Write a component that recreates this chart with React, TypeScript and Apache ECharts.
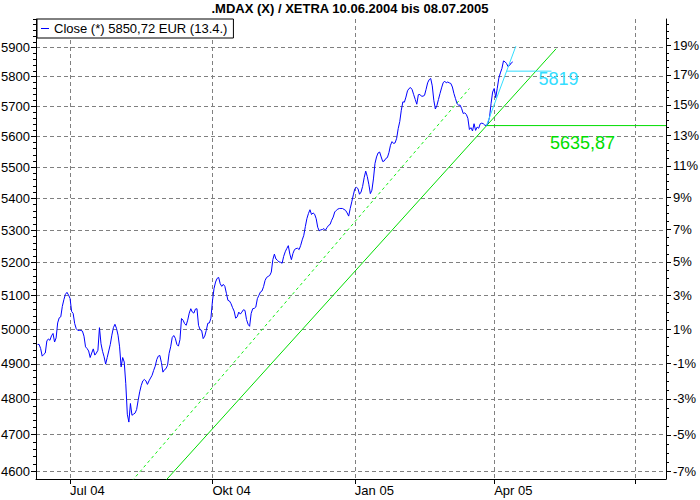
import React, { useEffect, useRef } from 'react';
import * as echarts from 'echarts';

const TITLE = '.MDAX (X) / XETRA 10.06.2004 bis 08.07.2005';
const SERIES_NAME = 'Close (*) 5850,72 EUR (13.4.)';

// one reading per calendar day, starting 10.06.2004
const closeStartDate = [2004, 6, 10];
const closeValues = [
  // Jun 2004 (10..30)
  4956, 4956, 4944, 4922, 4927, 4931, 4966, 4972, 4968, 4981, 4988, 4963, 4975, 5019, 5034, 5037, 5068, 5088, 5104, 5110, 5102,
  // Jul
  5092, 5053, 5047, 5017, 5002, 4997, 4997, 4997, 4995, 4980, 4949, 4944, 4937, 4918, 4931, 4943, 4925, 4931, 4939, 5005, 4958, 4936, 4920, 4899, 4918, 4937, 4956, 4983, 5005, 5015, 5003,
  // Aug
  4983, 4949, 4891, 4918, 4905, 4843, 4757, 4735, 4787, 4754, 4757, 4760, 4770, 4796, 4820, 4838, 4851, 4855, 4851, 4841, 4851, 4859, 4867, 4881, 4893, 4912, 4922, 4924, 4904, 4876, 4883,
  // Sep
  4886, 4896, 4930, 4949, 4976, 4982, 4974, 4956, 4951, 4970, 5032, 5027, 5017, 5012, 5027, 5048, 5061, 5051, 5048, 5060, 5061, 5012, 4999, 4997, 4973, 4980, 4997, 5018, 5019, 5033,
  // Okt
  5084, 5121, 5141, 5152, 5155, 5136, 5128, 5134, 5128, 5107, 5086, 5084, 5076, 5064, 5054, 5033, 5037, 5051, 5045, 5051, 5058, 5056, 5029, 5015, 5009, 5047, 5061, 5062, 5066, 5091, 5101,
  // Nov
  5111, 5114, 5127, 5146, 5155, 5158, 5161, 5171, 5209, 5226, 5211, 5207, 5202, 5201, 5198, 5219, 5233, 5243, 5252, 5226, 5209, 5228, 5240, 5243, 5244, 5240, 5253, 5270, 5284, 5311,
  // Dez
  5336, 5352, 5364, 5349, 5354, 5350, 5336, 5309, 5298, 5301, 5302, 5305, 5300, 5308, 5315, 5318, 5331, 5341, 5357, 5362, 5366, 5368, 5368, 5368, 5365, 5362, 5354, 5344, 5368, 5389, 5411,
  // Jan 2005
  5431, 5435, 5431, 5413, 5420, 5438, 5466, 5487, 5470, 5445, 5415, 5426, 5462, 5512, 5533, 5546, 5549, 5533, 5518, 5520, 5528, 5531, 5547, 5571, 5583, 5577, 5579, 5594, 5626, 5649, 5687,
  // Feb
  5715, 5714, 5731, 5752, 5760, 5763, 5756, 5739, 5723, 5707, 5739, 5740, 5734, 5734, 5737, 5757, 5779, 5790, 5794, 5769, 5720, 5691, 5703, 5723, 5743, 5762, 5779, 5785,
  // Mar
  5779, 5782, 5779, 5777, 5765, 5743, 5726, 5709, 5704, 5704, 5692, 5676, 5678, 5673, 5660, 5623, 5629, 5618, 5642, 5620, 5631, 5627, 5642, 5644, 5642, 5637, 5635.87, 5644, 5664, 5710, 5748,
  // Apr (1..13)
  5760, 5729, 5761, 5795, 5813, 5828, 5854, 5851, 5845, 5834, 5839, 5847, 5850.72,
];

const trendSolid = [['2004-08-30', 4567], ['2005-05-11', 5896]];
const trendDashed = [['2004-08-10', 4574], ['2005-03-16', 5760]];
const trendCyan = [['2005-03-27', 5636], ['2005-04-15', 5905]];
const cyanLevel = 5819;
const cyanLevelRange = ['2005-04-09', '2005-05-08'];
const greenLevel = 5635.87;
const greenLevelRange = ['2005-03-27', '2005-07-21'];
const greenLabelDate = '2005-05-07';

const xRange = ['2004-06-09', '2005-07-21'];
const priceTicks = [4600, 4700, 4800, 4900, 5000, 5100, 5200, 5300, 5400, 5500, 5600, 5700, 5800, 5900];
const pctTicks = [-7, -5, -3, -1, 1, 3, 5, 7, 9, 11, 13, 15, 17, 19];
const quarterTicks = ['2004-07-01', '2004-10-01', '2005-01-01', '2005-04-01', '2005-07-01'];
const quarterLabels = ['2004-07-01', '2004-10-01', '2005-01-01', '2005-04-01'];
const monthNames = ['Jan', 'Feb', 'Mär', 'Apr', 'Mai', 'Jun', 'Jul', 'Aug', 'Sep', 'Okt', 'Nov', 'Dez'];

const FONT = 'Liberation Sans, Arial, sans-serif';
const BLUE = '#0000ff';
const GREEN = '#00dd00';
const GREEN_DASH = '#11ee11';
const CYAN = '#33ddff';
const GRID_LINE = { show: true, lineStyle: { color: '#808080', type: [4, 3] as any, width: 1 } };

const Y_MIN = 4579.3;
const Y_MAX = 6000;
const PCT_MIN = 0.92608;
const PCT_MAX = 1.20852;

const ts = (s: string) => {
  const [y, m, d] = s.split('-').map(Number);
  return new Date(y, m - 1, d).getTime();
};

export default function App() {
  const ref = useRef<HTMLDivElement>(null);
  useEffect(() => {
    if (!ref.current) return;
    const chart = echarts.init(ref.current, undefined, { renderer: 'svg' });
    const [sy, sm, sd] = closeStartDate;
    const closeData = closeValues.map((v, i) => [new Date(sy, sm - 1, sd + i).getTime(), v]);
    const pairs = (arr: any[]) => arr.map(([d, v]) => [ts(d), v]);

    const minorPrice: number[] = [];
    for (let v = 4600; v <= 6000; v += 20) minorPrice.push(v);
    const minorPct: number[] = [];
    for (let p = -7; p <= 20.5; p += 0.5) minorPct.push(1 + p / 100);

    const fmtDe = (v: number) => (Number.isInteger(v) ? String(v) : v.toFixed(2).replace('.', ','));

    const option: any = {
      animation: false,
      backgroundColor: '#fff',
      title: {
        text: TITLE,
        left: 'center',
        top: 2,
        padding: 0,
        textStyle: { fontFamily: FONT, fontSize: 13, fontWeight: 'bold', color: '#000' },
      },
      legend: {
        data: [SERIES_NAME],
        left: 37,
        top: 19,
        padding: [3, 6, 3, 4],
        backgroundColor: '#fff',
        borderColor: '#000',
        borderWidth: 1,
        borderRadius: 0,
        icon: 'rect',
        itemWidth: 8,
        itemHeight: 1,
        textStyle: { fontFamily: FONT, fontSize: 13, color: '#000' },
        selectedMode: false,
      },
      grid: { left: 36, right: 34, top: 19, bottom: 21, containLabel: false, outerBoundsMode: 'none' },
      xAxis: {
        type: 'value',
        min: ts(xRange[0]),
        max: ts(xRange[1]),
        axisLine: { show: true, onZero: false, lineStyle: { color: '#000', width: 1 } },
        axisTick: { show: true, length: 5, lineStyle: { color: '#000' }, customValues: quarterTicks.map(ts) },
        axisLabel: {
          customValues: quarterLabels.map(ts),
          align: 'left',
          margin: 5,
          color: '#000',
          fontFamily: FONT,
          fontSize: 13,
          formatter: (value: number) => {
            const d = new Date(value);
            return monthNames[d.getMonth()] + ' ' + String(d.getFullYear()).slice(2);
          },
        },
        splitLine: GRID_LINE,
      },
      yAxis: [
        {
          type: 'log',
          position: 'left',
          min: Y_MIN,
          max: Y_MAX,
          axisLine: { show: true, lineStyle: { color: '#000', width: 1 } },
          axisTick: { show: true, length: 5, lineStyle: { color: '#000' }, customValues: priceTicks },
          axisLabel: {
            customValues: priceTicks,
            margin: 6,
            color: '#000',
            fontFamily: FONT,
            fontSize: 13,
            formatter: (v: number) => String(Math.round(v)),
          },
          splitLine: GRID_LINE,
        },
        {
          type: 'log',
          position: 'left',
          min: Y_MIN,
          max: Y_MAX,
          axisLine: { show: false },
          axisTick: { show: true, length: 3, lineStyle: { color: '#000' }, customValues: minorPrice },
          axisLabel: { show: false },
          splitLine: { show: false },
        },
        {
          type: 'log',
          position: 'right',
          min: PCT_MIN,
          max: PCT_MAX,
          axisLine: { show: true, lineStyle: { color: '#000', width: 1 } },
          axisTick: { show: true, length: 5, lineStyle: { color: '#000' }, customValues: pctTicks.map((p) => 1 + p / 100) },
          axisLabel: {
            customValues: pctTicks.map((p) => 1 + p / 100),
            margin: 7,
            color: '#000',
            fontFamily: FONT,
            fontSize: 13,
            formatter: (v: number) => Math.round((v - 1) * 100) + '%',
          },
          splitLine: { show: false },
        },
        {
          type: 'log',
          position: 'right',
          min: PCT_MIN,
          max: PCT_MAX,
          axisLine: { show: false },
          axisTick: { show: true, length: 3, lineStyle: { color: '#000' }, customValues: minorPct },
          axisLabel: { show: false },
          splitLine: { show: false },
        },
      ],
      series: [
        {
          name: 'trend-dashed',
          type: 'line',
          data: pairs(trendDashed),
          symbol: 'none',
          silent: true,
          lineStyle: { color: GREEN_DASH, width: 1, type: [3, 3] },
          itemStyle: { color: GREEN_DASH },
        },
        {
          name: 'trend-solid',
          type: 'line',
          data: pairs(trendSolid),
          symbol: 'none',
          silent: true,
          lineStyle: { color: GREEN, width: 1 },
          itemStyle: { color: GREEN },
        },
        {
          name: 'level-green',
          type: 'line',
          data: greenLevelRange.map((d) => [ts(d), greenLevel]),
          symbol: 'none',
          silent: true,
          lineStyle: { color: GREEN, width: 1 },
          itemStyle: { color: GREEN },
          markPoint: {
            symbol: 'circle',
            symbolSize: 0,
            silent: true,
            data: [{ coord: [ts(greenLabelDate), greenLevel], value: greenLevel }],
            label: {
              show: true,
              position: 'right',
              distance: 0,
              offset: [0, 17],
              formatter: () => fmtDe(greenLevel),
              color: GREEN,
              fontFamily: FONT,
              fontSize: 18,
            },
          },
        },
        {
          name: SERIES_NAME,
          type: 'line',
          data: closeData,
          symbol: 'none',
          silent: true,
          lineStyle: { color: BLUE, width: 1 },
          itemStyle: { color: BLUE },
        },
        {
          name: 'trend-cyan',
          type: 'line',
          data: pairs(trendCyan),
          symbol: 'none',
          silent: true,
          lineStyle: { color: CYAN, width: 1 },
          itemStyle: { color: CYAN },
        },
        {
          name: 'level-cyan',
          type: 'line',
          data: cyanLevelRange.map((d) => [ts(d), cyanLevel]),
          symbol: 'none',
          silent: true,
          lineStyle: { color: CYAN, width: 1 },
          itemStyle: { color: CYAN },
          markPoint: {
            symbol: 'circle',
            symbolSize: 0,
            silent: true,
            data: [{ coord: [ts(cyanLevelRange[1]), cyanLevel], value: cyanLevel }],
            label: {
              show: true,
              position: 'right',
              distance: 0,
              offset: [-13, 8],
              formatter: () => fmtDe(cyanLevel),
              color: CYAN,
              fontFamily: FONT,
              fontSize: 18,
            },
          },
        },
      ],
    };
    chart.setOption(option);
    return () => chart.dispose();
  }, []);
  return <div ref={ref} style={{ position: 'absolute', left: 0, top: 0, width: 700, height: 500 }} />;
}
